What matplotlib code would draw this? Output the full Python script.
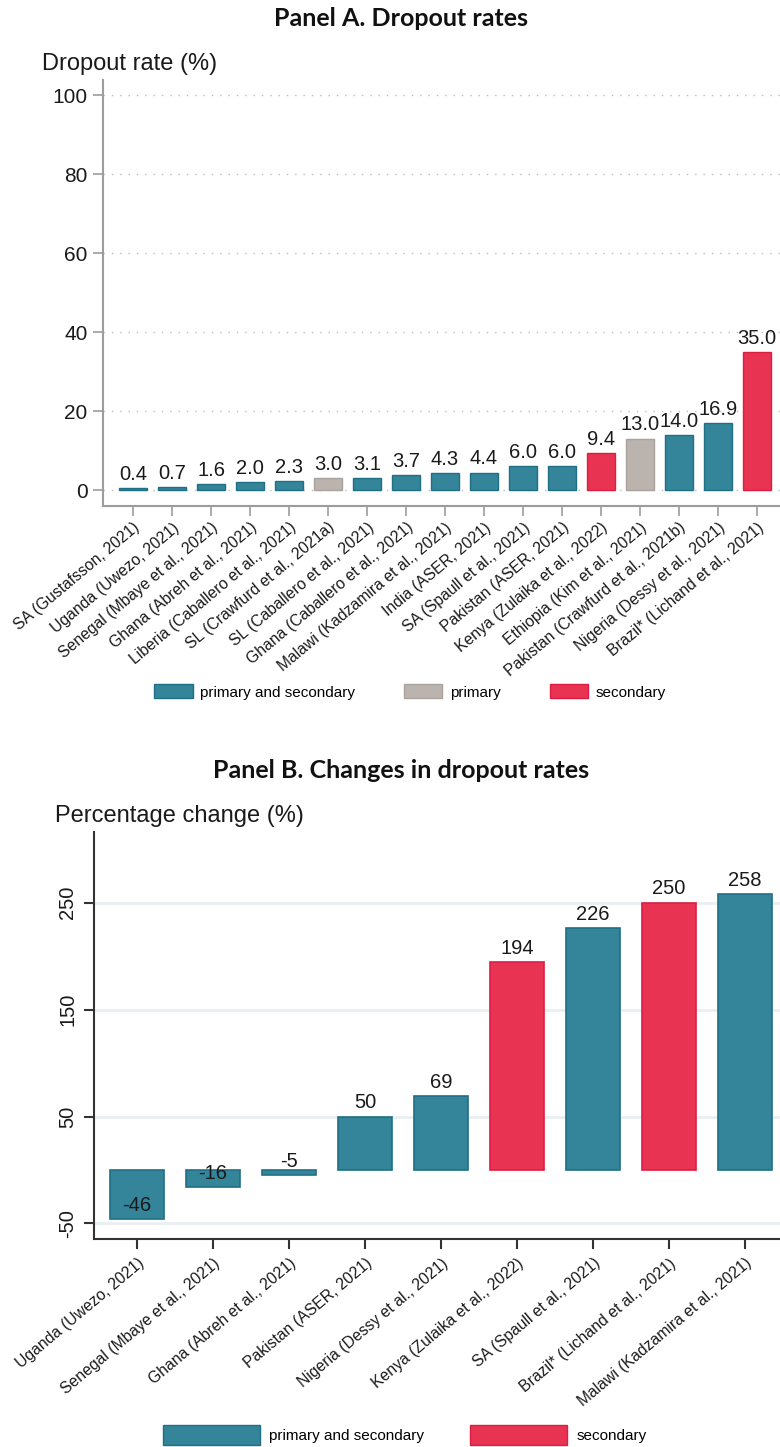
import matplotlib
matplotlib.use("Agg")
import matplotlib.pyplot as plt
from matplotlib.patches import Patch
from matplotlib.transforms import ScaledTranslation

plt.rcParams['font.family'] = ['Liberation Sans', 'DejaVu Sans']
plt.rcParams['axes.unicode_minus'] = False

# Panel A data
studies_a = ['SA (Gustafsson, 2021)', 'Uganda (Uwezo, 2021)', 'Senegal (Mbaye et al., 2021)',
             'Ghana (Abreh et al., 2021)', 'Liberia (Caballero et al., 2021)',
             'SL (Crawfurd et al., 2021a)', 'SL (Caballero et al., 2021)',
             'Ghana (Caballero et al., 2021)', 'Malawi (Kadzamira et al., 2021)',
             'India (ASER, 2021)', 'SA (Spaull et al., 2021)', 'Pakistan (ASER, 2021)',
             'Kenya (Zulaika et al., 2022)', 'Ethiopia (Kim et al., 2021)',
             'Pakistan (Crawfurd et al., 2021b)', 'Nigeria (Dessy et al., 2021)',
             'Brazil* (Lichand et al., 2021)']
dropout_a = [0.4, 0.7, 1.6, 2.0, 2.3, 3.0, 3.1, 3.7, 4.3, 4.4, 6.0, 6.0, 9.4, 13.0, 14.0, 16.9, 35.0]
level_a = ['ps', 'ps', 'ps', 'ps', 'ps', 'p', 'ps', 'ps', 'ps', 'ps', 'ps', 'ps', 's', 'p', 'ps', 'ps', 's']

# Panel B data
studies_b = ['Uganda (Uwezo, 2021)', 'Senegal (Mbaye et al., 2021)', 'Ghana (Abreh et al., 2021)',
             'Pakistan (ASER, 2021)', 'Nigeria (Dessy et al., 2021)', 'Kenya (Zulaika et al., 2022)',
             'SA (Spaull et al., 2021)', 'Brazil* (Lichand et al., 2021)',
             'Malawi (Kadzamira et al., 2021)']
change_b = [-46, -16, -5, 50, 69, 194, 226, 250, 258]
level_b = ['ps', 'ps', 'ps', 'ps', 'ps', 's', 'ps', 's', 'ps']

fill = {'ps': '#348599', 'p': '#bbb3ae', 's': '#e83352'}
edge = {'ps': '#1f7084', 'p': '#aaa29d', 's': '#dc1e42'}
names = {'ps': 'primary and secondary', 'p': 'primary', 's': 'secondary'}

W, H = 780, 1447
fig = plt.figure(figsize=(W / 100, H / 100), dpi=100)


def rect(x0, y0, x1, y1):
    # pixel box (top-left origin) -> figure fraction
    return [x0 / W, 1 - y1 / H, (x1 - x0) / W, (y1 - y0) / H]


def shift_labels(ax, dx):
    for lab in ax.get_xticklabels():
        lab.set_transform(lab.get_transform() + ScaledTranslation(dx / 100, 0, fig.dpi_scale_trans))


# ---------------- Panel A ----------------
ax1 = fig.add_axes(rect(103, 80, 780, 506))
xa = range(len(dropout_a))
ax1.bar(xa, dropout_a, width=0.72, color=[fill[l] for l in level_a],
        edgecolor=[edge[l] for l in level_a], linewidth=1, zorder=3)
for i, v in enumerate(dropout_a):
    ax1.annotate(f'{v:.1f}', (i, v), xytext=(0, 3), textcoords='offset points',
                 ha='center', va='bottom', fontsize=14.5, color='#1a1a1a', zorder=4)
ax1.set_xlim(-0.77, 16.59)
ax1.set_ylim(-4.05, 103.8)
ax1.set_yticks([0, 20, 40, 60, 80, 100])
ax1.grid(axis='y', color='#bdbdbd', linestyle=(0, (1, 5)), linewidth=1, zorder=0)
ax1.set_xticks(list(xa))
ax1.set_xticklabels(studies_a, rotation=40, ha='right', va='top', rotation_mode='anchor',
                    fontsize=11.3, color='#1a1a1a')
shift_labels(ax1, 4)
for s in ['top', 'right']:
    ax1.spines[s].set_visible(False)
for s in ['left', 'bottom']:
    ax1.spines[s].set_color('#9c9c9c')
    ax1.spines[s].set_linewidth(1.5)
ax1.tick_params(axis='both', length=7, width=1.2, color='#9c9c9c')
ax1.tick_params(axis='y', labelsize=15, labelcolor='#1a1a1a', pad=4)
ax1.tick_params(axis='x', pad=3)

fig.text(42 / W, 1 - 70 / H, 'Dropout rate (%)', fontsize=17, ha='left', va='baseline', color='#1a1a1a')
fig.text(401 / W, 1 - 26 / H, 'Panel A. Dropout rates', fontsize=18, fontweight='bold',
         family=['Lato', 'DejaVu Sans'], ha='center', va='baseline', color='#111111')

handles_a = [Patch(facecolor=fill[k], edgecolor=edge[k], label=names[k]) for k in ['ps', 'p', 's']]
fig.legend(handles=handles_a, loc='center', bbox_to_anchor=(410 / W, 1 - 692 / H), ncol=3,
           frameon=False, fontsize=11, handlelength=2.5, handleheight=1.0, handletextpad=0.5,
           columnspacing=3.2, borderpad=0)

# ---------------- Panel B ----------------
ax2 = fig.add_axes(rect(94, 832, 780, 1239))
xb = range(len(change_b))
ax2.bar(xb, change_b, width=0.70, color=[fill[l] for l in level_b],
        edgecolor=[edge[l] for l in level_b], linewidth=1.2, zorder=3)
for i, v in enumerate(change_b):
    ax2.annotate(f'{v:d}', (i, v), xytext=(0, 3), textcoords='offset points',
                 ha='center', va='bottom', fontsize=14.5, color='#1a1a1a', zorder=4)
ax2.set_xlim(-0.566, 8.46)
ax2.set_ylim(-64.5, 316)
ax2.set_yticks([-50, 50, 150, 250])
ax2.grid(axis='y', color='#e9eff2', linestyle='-', linewidth=2, zorder=0)
ax2.set_xticks(list(xb))
ax2.set_xticklabels(studies_b, rotation=40, ha='right', va='top', rotation_mode='anchor',
                    fontsize=11.3, color='#1a1a1a')
shift_labels(ax2, 3)
for s in ['top', 'right']:
    ax2.spines[s].set_visible(False)
for s in ['left', 'bottom']:
    ax2.spines[s].set_color('#333333')
    ax2.spines[s].set_linewidth(1.5)
ax2.tick_params(axis='both', length=7, width=1.5, color='#333333')
ax2.tick_params(axis='y', labelsize=14.5, labelcolor='#1a1a1a', labelrotation=90, pad=5)
for lab in ax2.get_yticklabels():
    lab.set_va('center')
ax2.tick_params(axis='x', pad=5)

fig.text(55 / W, 1 - 822 / H, 'Percentage change (%)', fontsize=17, ha='left', va='baseline', color='#1a1a1a')
fig.text(401 / W, 1 - 778 / H, 'Panel B. Changes in dropout rates', fontsize=18, fontweight='bold',
         family=['Lato', 'DejaVu Sans'], ha='center', va='baseline', color='#111111')

handles_b = [Patch(facecolor=fill[k], edgecolor=edge[k], label=names[k]) for k in ['ps', 's']]
fig.legend(handles=handles_b, loc='center', bbox_to_anchor=(405 / W, 1 - 1435 / H), ncol=2,
           frameon=False, fontsize=11, handlelength=6.3, handleheight=1.55, handletextpad=0.65,
           columnspacing=3.0, borderpad=0)

fig.savefig('out.png', dpi=100)
